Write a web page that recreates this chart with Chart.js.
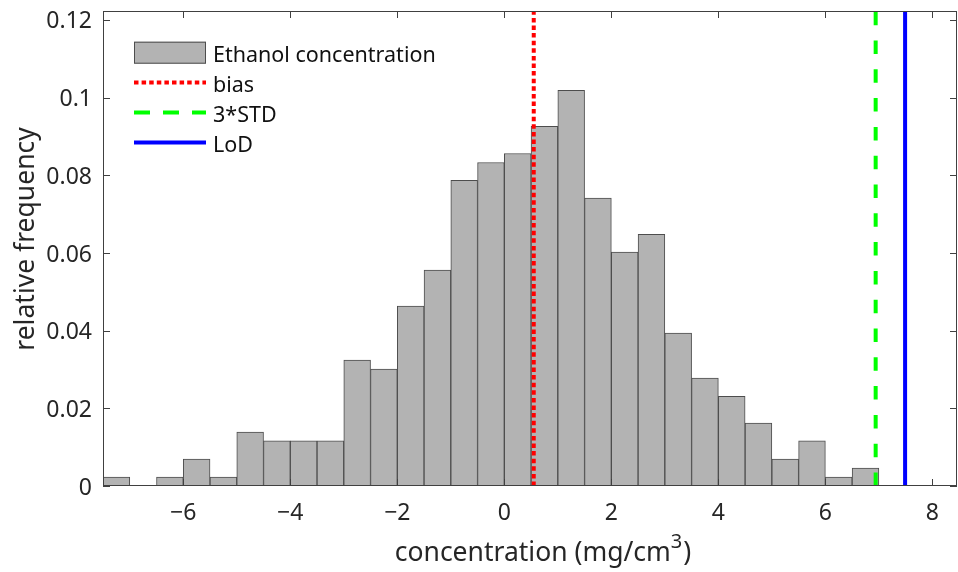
<!DOCTYPE html>
<html>
<head>
<meta charset="utf-8">
<script src="https://cdn.jsdelivr.net/npm/chart.js@4.4.1/dist/chart.umd.min.js"></script>
<style>
  html, body { margin: 0; padding: 0; background: #fff; }
</style>
</head>
<body>
<canvas id="histChart" width="958" height="572"></canvas>
<script>
// --- data (bin width 0.5) ---
const binCenters = [-7.25, -6.75, -6.25, -5.75, -5.25, -4.75, -4.25, -3.75, -3.25, -2.75,
                    -2.25, -1.75, -1.25, -0.75, -0.25, 0.25, 0.75, 1.25, 1.75, 2.25,
                    2.75, 3.25, 3.75, 4.25, 4.75, 5.25, 5.75, 6.25, 6.75];
const relFreq = [0.0023, 0, 0.0023, 0.0069, 0.0023, 0.0139, 0.0116, 0.0116, 0.0116, 0.0324,
                 0.0301, 0.0463, 0.0556, 0.0787, 0.0833, 0.0856, 0.0926, 0.1019, 0.0741, 0.0602,
                 0.0648, 0.0394, 0.0278, 0.0231, 0.0162, 0.0069, 0.0116, 0.0023, 0.0046];

const biasValue = 0.55;
const std3Value = 6.94;
const lodValue = 7.49;

const xRange = [-7.5, 8.46];
const yRange = [0, 0.1223];
const xTicks = [-6, -4, -2, 0, 2, 4, 6, 8];
const yTicks = [0, 0.02, 0.04, 0.06, 0.08, 0.1, 0.12];

const seriesNames = ['Ethanol concentration', 'bias', '3*STD', 'LoD'];
const xTitle = ['concentration (mg/cm', '3', ')'];
const yTitle = 'relative frequency';

const axisColor = '#404040';
const textColor = '#262626';
const fontFamily = '"Noto Sans", "Open Sans", sans-serif';

const vline = (x) => [{ x: x, y: yRange[0] }, { x: x, y: yRange[1] }];

// box + inward ticks on all four sides, MATLAB style
const boxPlugin = {
    id: 'boxTicks',
    afterDatasetsDraw: (chart) => {
        const { ctx, chartArea: a, scales } = chart;
        const tl = 7;
        ctx.save();
        ctx.strokeStyle = axisColor;
        ctx.lineWidth = 1;
        ctx.strokeRect(a.left + 0.5, a.top + 0.5, a.right - a.left - 1, a.bottom - a.top - 1);
        ctx.beginPath();
        xTicks.forEach(v => {
            const px = Math.round(scales.x.getPixelForValue(v)) + 0.5;
            ctx.moveTo(px, a.bottom); ctx.lineTo(px, a.bottom - tl);
            ctx.moveTo(px, a.top); ctx.lineTo(px, a.top + tl);
        });
        yTicks.forEach(v => {
            const py = Math.round(scales.y.getPixelForValue(v)) + 0.5;
            ctx.moveTo(a.left, py); ctx.lineTo(a.left + tl, py);
            ctx.moveTo(a.right, py); ctx.lineTo(a.right - tl, py);
        });
        ctx.stroke();
        ctx.restore();
    }
};

// axis titles (x title carries a superscript)
const titlePlugin = {
    id: 'axisTitles',
    afterDraw: (chart) => {
        const { ctx } = chart;
        ctx.save();
        ctx.fillStyle = textColor;
        ctx.textBaseline = 'alphabetic';
        ctx.textAlign = 'left';
        const mainFont = '26.5px ' + fontFamily;
        const supFont = '20px ' + fontFamily;
        ctx.font = mainFont;
        const w0 = ctx.measureText(xTitle[0]).width;
        const w2 = ctx.measureText(xTitle[2]).width;
        ctx.font = supFont;
        const w1 = ctx.measureText(xTitle[1]).width;
        let x = 543 - (w0 + w1 + w2 + 1) / 2;
        const base = 561;
        ctx.font = mainFont;
        ctx.fillText(xTitle[0], x, base);
        x += w0;
        ctx.font = supFont;
        ctx.fillText(xTitle[1], x, base - 13);
        x += w1 + 1;
        ctx.font = mainFont;
        ctx.fillText(xTitle[2], x, base);
        // y title
        ctx.translate(26, 239);
        ctx.rotate(-Math.PI / 2);
        ctx.textAlign = 'center';
        ctx.textBaseline = 'middle';
        ctx.font = '26.5px ' + fontFamily;
        ctx.fillText(yTitle, 0, 0);
        ctx.restore();
    }
};

// legend drawn in the top-left of the axes
const legendPlugin = {
    id: 'matLegend',
    afterDraw: (chart) => {
        const { ctx } = chart;
        const ds = chart.data.datasets;
        const x0 = 134, x1 = 206, tx = 213;
        const rows = [52.7, 82.5, 112.5, 142.5];
        ctx.save();
        // histogram patch
        ctx.fillStyle = ds[0].backgroundColor;
        ctx.strokeStyle = ds[0].borderColor;
        ctx.lineWidth = 1;
        ctx.fillRect(x0, rows[0] - 11, x1 - x0, 22);
        ctx.strokeRect(x0 + 0.5, rows[0] - 10.5, x1 - x0 - 1, 21);
        // line samples
        const dashes = [null, [4.5, 3.1], [16, 13], []];
        for (let i = 1; i < 4; i++) {
            ctx.beginPath();
            ctx.strokeStyle = ds[i].borderColor;
            ctx.lineWidth = ds[i].borderWidth;
            ctx.setLineDash(dashes[i]);
            ctx.moveTo(x0, rows[i]);
            ctx.lineTo(x1, rows[i]);
            ctx.stroke();
        }
        ctx.setLineDash([]);
        ctx.fillStyle = '#111';
        ctx.font = '21.5px ' + fontFamily;
        ctx.textBaseline = 'alphabetic';
        ctx.textAlign = 'left';
        seriesNames.forEach((name, i) => ctx.fillText(name, tx, rows[i] + 9.3));
        ctx.restore();
    }
};

new Chart(document.getElementById('histChart'), {
    type: 'bar',
    data: {
        datasets: [
            {
                type: 'bar',
                label: seriesNames[0],
                data: binCenters.map((x, i) => ({ x: x, y: relFreq[i] })),
                backgroundColor: '#b3b3b3',
                borderColor: '#4d4d4d',
                borderWidth: 1,
                borderSkipped: false,
                barPercentage: 1,
                categoryPercentage: 1,
                order: 4
            },
            {
                type: 'line',
                label: seriesNames[1],
                data: vline(biasValue),
                borderColor: '#ff0000',
                borderWidth: 4,
                borderDash: [4.5, 3.1],
                pointRadius: 0,
                order: 3
            },
            {
                type: 'line',
                label: seriesNames[2],
                data: vline(std3Value),
                borderColor: '#00ff00',
                borderWidth: 4,
                borderDash: [13.5, 15.3],
                pointRadius: 0,
                order: 2
            },
            {
                type: 'line',
                label: seriesNames[3],
                data: vline(lodValue),
                borderColor: '#0000ff',
                borderWidth: 4,
                pointRadius: 0,
                order: 1
            }
        ]
    },
    options: {
        responsive: false,
        animation: false,
        layout: { padding: { top: 11, right: 1, left: 0, bottom: 0 } },
        plugins: {
            legend: { display: false },
            tooltip: { enabled: false }
        },
        scales: {
            x: {
                type: 'linear',
                min: xRange[0],
                max: xRange[1],
                offset: false,
                grid: { display: false, drawTicks: false },
                border: { display: false },
                afterBuildTicks: (s) => { s.ticks = xTicks.map(v => ({ value: v })); },
                afterFit: (s) => { s.height = 86; s.paddingLeft = 0; s.paddingRight = 0; },
                ticks: {
                    color: textColor,
                    font: { family: fontFamily, size: 23 },
                    padding: 14,
                    maxRotation: 0,
                    callback: (v) => (v < 0 ? '\u2212' + Math.abs(v) : String(v))
                }
            },
            y: {
                min: yRange[0],
                max: yRange[1],
                grid: { display: false, drawTicks: false },
                border: { display: false },
                afterBuildTicks: (s) => { s.ticks = yTicks.map(v => ({ value: v })); },
                afterFit: (s) => { s.width = 103; s.paddingTop = 0; s.paddingBottom = 0; },
                ticks: {
                    color: textColor,
                    font: { family: fontFamily, size: 23 },
                    padding: 11,
                    labelOffset: 2,
                    callback: (v) => String(+v.toFixed(2))
                }
            }
        }
    },
    plugins: [boxPlugin, titlePlugin, legendPlugin]
});
</script>
</body>
</html>
